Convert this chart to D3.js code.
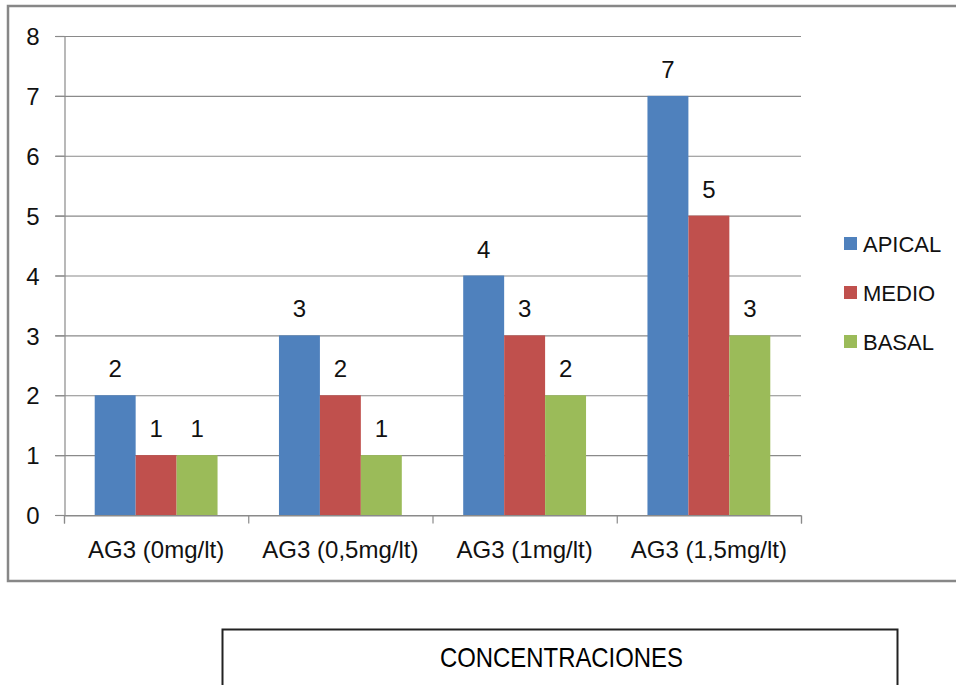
<!DOCTYPE html>
<html>
<head>
<meta charset="utf-8">
<script src="https://cdn.jsdelivr.net/npm/d3@7"></script>
<style>
  html, body { margin: 0; padding: 0; background: #fff; }
  svg { display: block; font-family: "Liberation Sans", Arial, sans-serif; }
</style>
</head>
<body>
<svg id="chart" width="956" height="685"></svg>
<script>
// Chart data
const categories = ["AG3 (0mg/lt)", "AG3 (0,5mg/lt)", "AG3 (1mg/lt)", "AG3 (1,5mg/lt)"];
const seriesNames = ["APICAL", "MEDIO", "BASAL"];
const apical = [2, 3, 4, 7];
const medio  = [1, 2, 3, 5];
const basal  = [1, 1, 2, 3];
const yTicks = [0, 1, 2, 3, 4, 5, 6, 7, 8];
const axisTitle = "CONCENTRACIONES";

const seriesValues = [apical, medio, basal];
const colors = ["#4F81BD", "#C0504D", "#9BBB59"];
const gridColor = "#8a8a8a";
const textColor = "#111";

const svg = d3.select("#chart");

// Plot area
const plotLeft = 64, plotRight = 801, plotTop = 36, plotBottom = 515;

const x = d3.scaleBand().domain(categories).range([plotLeft, plotRight]).paddingInner(0).paddingOuter(0);
const xSub = d3.scaleBand().domain(seriesNames).range([0, x.bandwidth()])
  .paddingInner(0).paddingOuter(0.75);
const y = d3.scaleLinear().domain([0, 8]).range([plotBottom, plotTop]);

// Outer frame (right edge runs past the page)
svg.append("rect")
  .attr("x", 8).attr("y", 6)
  .attr("width", 980).attr("height", 575)
  .attr("fill", "none")
  .attr("stroke", "#878787")
  .attr("stroke-width", 2.5);

// Horizontal gridlines
svg.append("g")
  .selectAll("line")
  .data(yTicks)
  .join("line")
  .attr("x1", plotLeft - 9).attr("x2", plotRight)
  .attr("y1", d => y(d) + 0.5).attr("y2", d => y(d) + 0.5)
  .attr("stroke", gridColor)
  .attr("stroke-width", 1.2);

// Y axis
const yAxis = svg.append("g")
  .attr("transform", `translate(${plotLeft + 0.5},0)`)
  .call(d3.axisLeft(y).tickValues(yTicks).tickSize(9).tickPadding(16).tickFormat(d3.format("d")));
yAxis.select(".domain").attr("stroke", gridColor).attr("stroke-width", 1.2);
yAxis.selectAll(".tick line").attr("stroke", gridColor).attr("stroke-width", 1.2);
yAxis.selectAll(".tick text")
  .attr("fill", textColor)
  .style("font-size", "24px")
  .attr("dy", "0.36em");

// X axis: boundary ticks between categories
const xEdges = d3.scaleLinear().domain([0, categories.length]).range([plotLeft, plotRight]);
const xTickAxis = svg.append("g")
  .attr("transform", `translate(0,${plotBottom + 0.5})`)
  .call(d3.axisBottom(xEdges).tickValues(d3.range(categories.length + 1)).tickSize(8).tickFormat(""));
xTickAxis.select(".domain").attr("stroke", gridColor).attr("stroke-width", 1.2);
xTickAxis.selectAll(".tick line").attr("stroke", gridColor).attr("stroke-width", 1.2);

// X axis: category labels at band centres
const xLabelAxis = svg.append("g")
  .attr("transform", `translate(0,${plotBottom})`)
  .call(d3.axisBottom(x).tickSize(0).tickPadding(0));
xLabelAxis.select(".domain").remove();
xLabelAxis.selectAll(".tick text")
  .attr("fill", textColor)
  .style("font-size", "24px")
  .attr("y", 43)
  .attr("dy", 0);

// Bars
const groups = svg.append("g")
  .selectAll("g")
  .data(categories)
  .join("g")
  .attr("transform", d => `translate(${x(d)},0)`);

const cells = groups.selectAll("g.cell")
  .data((c, i) => seriesNames.map((s, j) => ({ series: s, idx: j, value: seriesValues[j][i] })))
  .join("g")
  .attr("class", "cell");

cells.append("rect")
  .attr("x", d => xSub(d.series))
  .attr("y", d => y(d.value))
  .attr("width", xSub.bandwidth())
  .attr("height", d => y(0) - y(d.value))
  .attr("fill", d => colors[d.idx]);

// Value labels above bars
cells.append("text")
  .attr("x", d => xSub(d.series) + xSub.bandwidth() / 2)
  .attr("y", d => y(d.value) - 18)
  .attr("text-anchor", "middle")
  .attr("fill", textColor)
  .style("font-size", "24px")
  .text(d => d.value);

// Legend
const legendY = [244, 293, 342];
const legend = svg.append("g")
  .selectAll("g")
  .data(seriesNames)
  .join("g")
  .attr("transform", (d, i) => `translate(844,${legendY[i]})`);
legend.append("rect")
  .attr("x", 0).attr("y", -7)
  .attr("width", 13).attr("height", 13)
  .attr("fill", (d, i) => colors[i]);
legend.append("text")
  .attr("x", 19).attr("y", 0)
  .attr("dy", "0.36em")
  .attr("fill", textColor)
  .style("font-size", "22px")
  .text(d => d);

// Axis title box
svg.append("rect")
  .attr("x", 222.5).attr("y", 629.5)
  .attr("width", 675).attr("height", 120)
  .attr("fill", "none")
  .attr("stroke", "#222")
  .attr("stroke-width", 2);
svg.append("text")
  .attr("x", 561.5).attr("y", 667)
  .attr("text-anchor", "middle")
  .attr("fill", "#000")
  .style("font-size", "28px")
  .attr("textLength", 243)
  .attr("lengthAdjust", "spacingAndGlyphs")
  .text(axisTitle);
</script>
</body>
</html>
